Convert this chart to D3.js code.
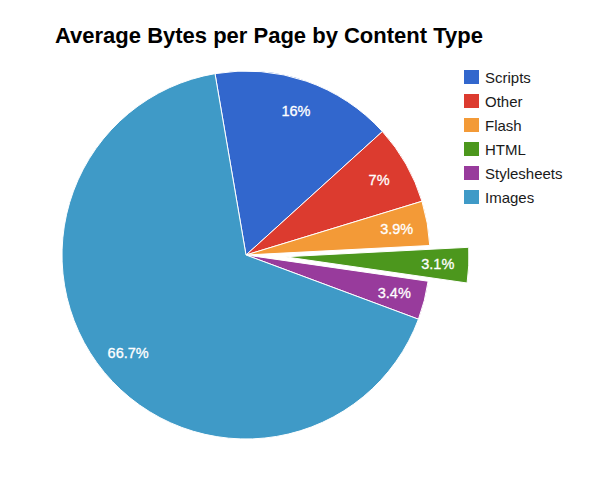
<!DOCTYPE html>
<html>
<head>
<meta charset="utf-8">
<script src="https://cdn.jsdelivr.net/npm/d3@7"></script>
<style>
  body { margin: 0; background: #fff; }
  svg { font-family: Arial, "Liberation Sans", sans-serif; }
</style>
</head>
<body>
<div id="chart"></div>
<script>
// content types, in drawing order (clockwise)
const categories = ["Scripts", "Other", "Flash", "HTML", "Stylesheets", "Images"];
const shares = [16, 7, 3.9, 3.1, 3.4, 66.7];
const colors = ["#3267cd", "#dc3b2f", "#f39a37", "#4c971d", "#983b9c", "#3f9ac7"];
const exploded = ["HTML"];

const width = 608, height = 482;
const cx = 246, cy = 255, radius = 184;
const startDeg = -9.7;
const offset = 39;

const svg = d3.select("#chart").append("svg")
  .attr("width", width).attr("height", height);

svg.append("text")
  .attr("x", 55).attr("y", 43)
  .attr("font-size", 22).attr("font-weight", "bold").attr("fill", "#000")
  .text("Average Bytes per Page by Content Type");

const rows = categories.map((c, i) => ({ name: c, value: shares[i], color: colors[i] }));

const start = startDeg * Math.PI / 180;
const pie = d3.pie().sort(null).value(d => d.value)
  .startAngle(start).endAngle(start + 2 * Math.PI);
const arc = d3.arc().innerRadius(0).outerRadius(radius);
const labelArc = d3.arc().innerRadius(153).outerRadius(153);

const g = svg.append("g").attr("transform", `translate(${cx},${cy})`);

const slices = g.selectAll(".slice").data(pie(rows)).enter().append("g")
  .attr("class", "slice")
  .attr("transform", d => {
    if (exploded.indexOf(d.data.name) < 0) return null;
    let mid = (d.startAngle + d.endAngle) / 2;
    return `translate(${Math.sin(mid) * offset},${-Math.cos(mid) * offset})`;
  });

slices.append("path")
  .attr("d", arc)
  .attr("fill", d => d.data.color)
  .attr("stroke", "#fff").attr("stroke-width", 1);

slices.append("text")
  .attr("transform", d => `translate(${labelArc.centroid(d)})`)
  .attr("text-anchor", "middle").attr("dy", "0.36em")
  .attr("font-size", 14.5).attr("fill", "#fff")
  .attr("stroke", "#fff").attr("stroke-width", 0.3)
  .text(d => d.data.value + "%");

// legend
const legend = svg.append("g").attr("transform", "translate(464,70)");
const item = legend.selectAll(".item").data(rows).enter().append("g")
  .attr("transform", (d, i) => `translate(0,${i * 24})`);
item.append("rect").attr("width", 15).attr("height", 14).attr("fill", d => d.color);
item.append("text").attr("x", 21).attr("y", 12.5)
  .attr("font-size", 15).attr("fill", "#1a1a1a")
  .text(d => d.name);
</script>
</body>
</html>
